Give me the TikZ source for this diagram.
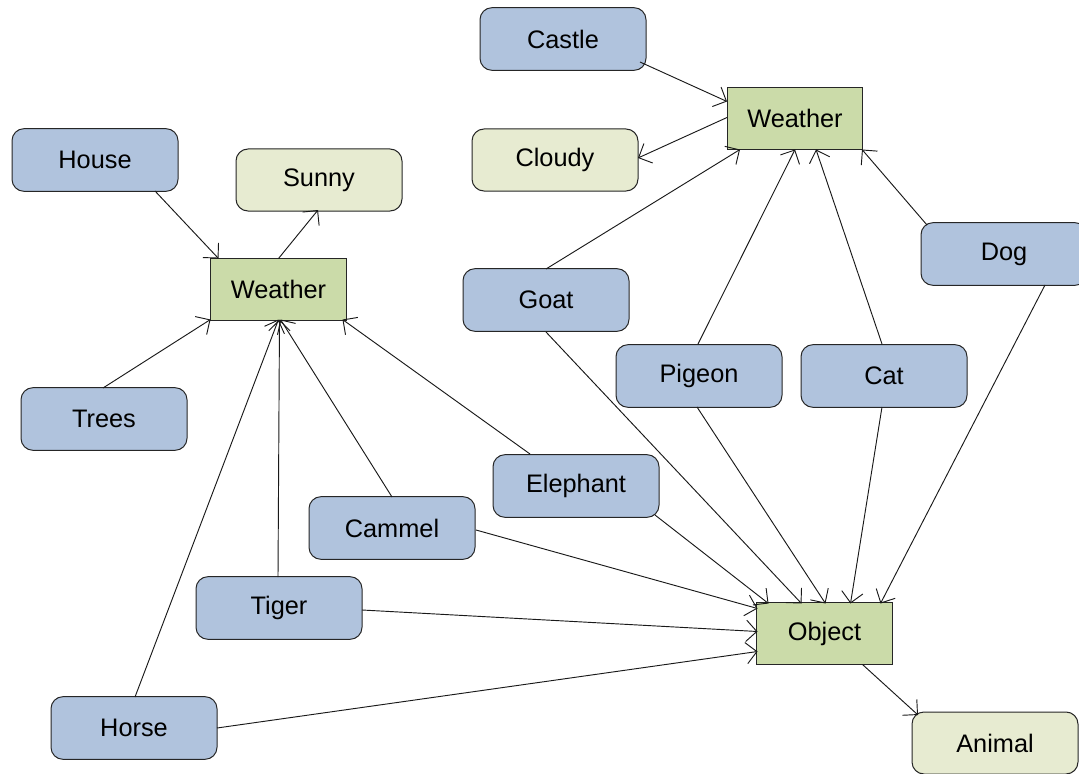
\documentclass[tikz,border=0pt]{standalone}
\usepackage{fontspec}
\setmainfont{Liberation Sans}
\usetikzlibrary{arrows.meta,calc}
\definecolor{cblue}{HTML}{B0C3DD}
\definecolor{cyel}{HTML}{E7EBD1}
\definecolor{cgreen}{HTML}{CBDBA9}
\begin{document}
\begin{tikzpicture}[x=0.75pt,y=-0.75pt,
  base/.style={draw=black!85,line width=0.75pt,inner sep=0pt,font=\fontsize{19}{22}\selectfont,text=black},
  bluebox/.style={base,fill=cblue,rounded corners=9pt,minimum width=124.5pt,minimum height=47pt},
  yelbox/.style={base,fill=cyel,rounded corners=9pt,minimum width=124.5pt,minimum height=46.5pt},
  greenbox/.style={base,fill=cgreen,minimum width=101.5pt,minimum height=46pt},
  arr/.style={line width=0.7pt,black!90,-{Straight Barb[length=8pt,width=16pt]}}]
\useasboundingbox (0,0) rectangle (1079,774);
\node[bluebox] (castle) at (563,39) {Castle};
\node[greenbox] (w2) at (795,118.5) {Weather};
\node[yelbox] (cloudy) at (555,160) {Cloudy};
\node[bluebox] (house) at (95,160) {House};
\node[yelbox] (sunny) at (319,180) {Sunny};
\node[greenbox] (w1) at (278.5,289.5) {Weather};
\node[bluebox] (dog) at (1004,254) {Dog};
\node[bluebox] (goat) at (546,300) {Goat};
\node[bluebox] (trees) at (104,419) {Trees};
\node[bluebox] (pigeon) at (699,376) {Pigeon};
\node[bluebox] (cat) at (884,376) {Cat};
\node[bluebox] (elephant) at (576,486) {Elephant};
\node[bluebox] (cammel) at (392,528) {Cammel};
\node[bluebox] (tiger) at (279,608) {Tiger};
\node[greenbox] (object) at (824.5,633.5) {Object};
\node[bluebox] (horse) at (134,728) {Horse};
\node[yelbox] (animal) at (995,743) {Animal};

\draw[arr] ($(castle)+(77,23)$) -- ($(w2)+(-68,-17)$);
\draw[arr] ($(w2)+(-68,-1)$) -- ($(cloudy)+(83,-2)$);
\draw[arr] ($(house)+(60,31)$) -- ($(w1)+(-60,-31)$);
\draw[arr] ($(w1)+(0,-31)$) -- ($(sunny)+(-1,30)$);
\draw[arr] ($(trees)+(-1,-31)$) -- ($(w1)+(-68,30)$);
\draw[arr] ($(horse)+(1,-31)$) -- ($(w1)+(0,30)$);
\draw[arr] ($(tiger)+(-1,-31)$) -- ($(w1)+(1,30)$);
\draw[arr] ($(cammel)+(0,-31)$) -- ($(w1)+(2,30)$);
\draw[arr] ($(elephant)+(-46,-32)$) -- ($(w1)+(64,30)$);
\draw[arr] ($(goat)+(0,-31)$) -- ($(w2)+(-55,31)$);
\draw[arr] ($(pigeon)+(-1,-32)$) -- ($(w2)+(0,31)$);
\draw[arr] ($(cat)+(-2,-32)$) -- ($(w2)+(21,31)$);
\draw[arr] ($(dog)+(-77,-29)$) -- ($(w2)+(67,31)$);
\draw[arr] ($(goat)+(0,32)$) -- ($(object)+(-23,-30)$);
\draw[arr] ($(elephant)+(79,29)$) -- ($(object)+(-56,-30)$);
\draw[arr] ($(pigeon)+(-2,31)$) -- ($(object)+(1,-30)$);
\draw[arr] ($(cat)+(-2,31)$) -- ($(object)+(26,-30)$);
\draw[arr] ($(dog)+(41,31)$) -- ($(object)+(56,-30)$);
\draw[arr] ($(cammel)+(84,2)$) -- ($(object)+(-67,-25)$);
\draw[arr] ($(tiger)+(83,2)$) -- ($(object)+(-67,-2)$);
\draw[arr] ($(horse)+(83,0)$) -- ($(object)+(-67,18)$);
\draw[arr] ($(object)+(38,31)$) -- ($(animal)+(-77,-28)$);
\end{tikzpicture}
\end{document}
